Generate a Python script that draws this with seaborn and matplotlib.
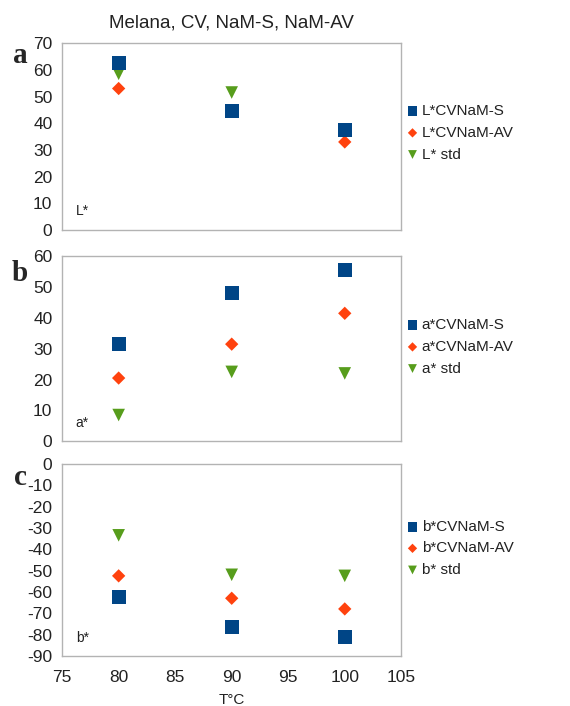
import numpy as np
import pandas as pd
import seaborn as sns
import matplotlib.pyplot as plt

temps = [80, 90, 100]
series_keys = ["S", "AV", "std"]

# L*, a*, b* values per series (NaN = not visible, hidden behind another marker)
L_S = [62.5, 44.5, 37.5]
L_AV = [53.0, np.nan, 33.0]
L_std = [58.5, 51.5, np.nan]

a_S = [31.5, 48.0, 55.5]
a_AV = [20.5, 31.5, 41.5]
a_std = [8.5, 22.5, 22.0]

b_S = [-62.5, -76.5, -81.0]
b_AV = [-52.5, -63.0, -68.0]
b_std = [-33.5, -52.0, -52.5]

panel_letters = ["a", "b", "c"]
panel_names = ["L*", "a*", "b*"]
legend_labels = [
    ["L*CVNaM-S", "L*CVNaM-AV", "L* std"],
    ["a*CVNaM-S", "a*CVNaM-AV", "a* std"],
    ["b*CVNaM-S", "b*CVNaM-AV", "b* std"],
]
panel_data = [
    [L_S, L_AV, L_std],
    [a_S, a_AV, a_std],
    [b_S, b_AV, b_std],
]
y_limits = [(0, 70), (0, 60), (-90, 0)]

colors = {"S": "#004586", "AV": "#ff420e", "std": "#579d1c"}
markers = {"S": "s", "AV": "D", "std": "v"}
msizes = {"S": 100, "AV": 46, "std": 82}

sns.set_theme(style="white")
plt.rcParams["font.family"] = ["Liberation Sans", "DejaVu Sans"]
plt.rcParams["axes.unicode_minus"] = False

fig = plt.figure(figsize=(5.7, 7.06), dpi=100)
rects = [
    [0.109, 0.674, 0.595, 0.265],
    [0.109, 0.375, 0.595, 0.262],
    [0.109, 0.071, 0.595, 0.272],
]
letter_y = [0.922, 0.613, 0.323]
legend_y = [0.52, 0.51, 0.56]

for i in range(3):
    ax = fig.add_axes(rects[i])
    rows = []
    for key, vals in zip(series_keys, panel_data[i]):
        for t, v in zip(temps, vals):
            rows.append({"T": t, "value": v, "series": key})
    df = pd.DataFrame(rows)

    # draw std first, then AV, then S on top
    for key in ["std", "AV", "S"]:
        sub = df[df["series"] == key]
        sns.scatterplot(
            data=sub, x="T", y="value", ax=ax,
            color=colors[key], marker=markers[key], s=msizes[key],
            edgecolor="none", linewidth=0, label=legend_labels[i][series_keys.index(key)],
        )
    h, l = ax.get_legend_handles_labels()
    order = [l.index(lab) for lab in legend_labels[i]]
    ax.legend(
        [h[j] for j in order], [l[j] for j in order],
        loc="center left", bbox_to_anchor=(0.97, legend_y[i]),
        frameon=False, fontsize=11, markerscale=0.7,
        handletextpad=0.1, handlelength=1.0, labelspacing=0.5,
        labelcolor="#222222",
    )

    ax.set_xlim(75, 105)
    ax.set_ylim(*y_limits[i])
    ax.set_xticks(np.arange(75, 106, 5))
    lo, hi = y_limits[i]
    ax.set_yticks(np.arange(lo, hi + 1, 10))
    ax.set_xlabel("")
    ax.set_ylabel("")
    for sp in ax.spines.values():
        sp.set_color("#b3b3b3")
        sp.set_linewidth(1.0)
    ax.tick_params(axis="both", direction="out", length=5, width=1.0,
                   color="#b3b3b3", labelsize=12.5, labelcolor="#222222", pad=2)
    ax.tick_params(axis="x", pad=5)
    if i < 2:
        ax.tick_params(axis="x", labelbottom=False)

    ax.text(0.04, 0.10 if i < 2 else 0.094, panel_names[i], transform=ax.transAxes,
            fontsize=10, color="#222222", va="center", ha="left")
    fig.text(0.035, letter_y[i], panel_letters[i], fontsize=21, fontweight="bold",
             family=["Liberation Serif", "DejaVu Serif"], ha="center", va="center")

    if i == 0:
        ax.set_title("Melana, CV, NaM-S, NaM-AV", fontsize=13.5, color="#222222", pad=11)
    if i == 2:
        ax.set_xlabel("T°C", fontsize=11, color="#222222", labelpad=6)

fig.savefig("out.png", dpi=100)
